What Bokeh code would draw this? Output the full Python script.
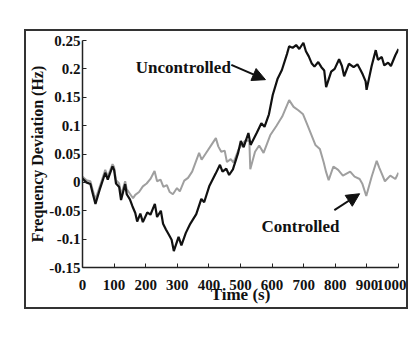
from bokeh.plotting import figure
from bokeh.models import Range1d, FixedTicker, Label, Arrow, NormalHead
from bokeh.embed import file_html
from bokeh.resources import INLINE

# ---- data ----
unc_t = [0, 12, 25, 33, 41, 56, 72, 80, 95, 100, 106, 116, 122, 135, 140, 150, 158, 167, 173,
         183, 191, 205, 215, 229, 236, 248, 255, 264, 273, 282, 289, 304, 313, 327, 341, 360,
         376, 385, 401, 421, 435, 443, 455, 464, 476, 492, 501, 510, 525, 532, 552, 566, 576,
         590, 602, 617, 631, 647, 654, 665, 676, 686, 699, 707, 716, 725, 734, 746, 756, 765,
         771, 787, 798, 812, 821, 828, 843, 858, 870, 879, 887, 896, 899, 915, 928, 935, 947,
         955, 967, 976, 990, 1000]
unc_v = [0.007, 0.000, -0.003, -0.021, -0.038, -0.010, 0.017, 0.005, 0.028, 0.022, -0.002,
         -0.008, -0.031, -0.003, -0.021, -0.030, -0.042, -0.054, -0.069, -0.055, -0.070,
         -0.053, -0.057, -0.038, -0.061, -0.050, -0.073, -0.083, -0.092, -0.101, -0.121,
         -0.096, -0.111, -0.089, -0.073, -0.056, -0.029, -0.035, -0.007, 0.015, 0.031, 0.019,
         0.024, 0.013, 0.023, 0.051, 0.073, 0.062, 0.087, 0.066, 0.088, 0.104, 0.098, 0.120,
         0.154, 0.182, 0.198, 0.226, 0.240, 0.237, 0.242, 0.235, 0.246, 0.231, 0.222, 0.210,
         0.204, 0.212, 0.203, 0.197, 0.168, 0.195, 0.200, 0.217, 0.205, 0.187, 0.209, 0.203,
         0.208, 0.199, 0.190, 0.178, 0.163, 0.205, 0.233, 0.216, 0.221, 0.206, 0.211, 0.205,
         0.224, 0.235]

ctl_t = [0, 12, 25, 33, 41, 56, 72, 80, 95, 100, 106, 116, 122, 135, 140, 150, 160, 167, 179,
         191, 203, 215, 228, 236, 247, 256, 267, 276, 286, 299, 308, 322, 334, 347, 369, 377,
         390, 409, 422, 430, 439, 450, 457, 469, 478, 493, 506, 518, 528, 531, 546, 559, 573,
         594, 613, 632, 654, 668, 683, 698, 711, 724, 737, 751, 763, 771, 779, 794, 809, 824,
         847, 861, 877, 886, 898, 915, 931, 939, 948, 957, 974, 990, 1000]
ctl_v = [0.010, 0.004, 0.002, -0.015, -0.030, -0.005, 0.022, 0.010, 0.032, 0.027, 0.004,
         -0.002, -0.022, 0.002, -0.012, -0.020, -0.028, -0.022, -0.017, -0.007, -0.002, 0.006,
         0.020, 0.002, 0.005, -0.008, -0.005, -0.017, -0.021, -0.010, -0.016, 0.003, 0.008,
         0.019, 0.052, 0.040, 0.051, 0.067, 0.078, 0.063, 0.054, 0.056, 0.036, 0.041, 0.035,
         0.057, 0.068, 0.075, 0.072, 0.023, 0.054, 0.065, 0.052, 0.083, 0.099, 0.116, 0.145,
         0.133, 0.127, 0.120, 0.102, 0.084, 0.066, 0.059, 0.036, 0.018, 0.004, 0.028, 0.022,
         0.012, 0.019, 0.010, 0.006, -0.003, -0.024, 0.010, 0.038, 0.026, 0.014, 0.002, 0.012,
         0.006, 0.017]

x_ticks = [0, 100, 200, 300, 400, 500, 600, 700, 800, 900, 1000]
y_ticks = [-0.15, -0.1, -0.05, 0.0, 0.05, 0.1, 0.15, 0.2, 0.25]
y_tick_labels = ["-0.15", "-0.1", "-0.05", "0", "0.05", "0.1", "0.15", "0.2", "0.25"]

unc_label_pos = (319, 0.203)
unc_arrow = (471, 0.207, 579, 0.181)
ctl_label_pos = (690, -0.078)
ctl_arrow = (797, -0.049, 877, -0.020)

FONT = "Liberation Serif"

p = figure(width=384, height=280, output_backend="svg", toolbar_location=None,
           x_range=Range1d(0, 1000), y_range=Range1d(-0.15, 0.25),
           min_border_left=50, min_border_right=12, min_border_top=9, min_border_bottom=44)
p.styles = {"margin-left": "24px", "margin-top": "29px", "border": "2px solid #333333"}
p.outline_line_color = None
p.xgrid.visible = False
p.ygrid.visible = False
p.background_fill_color = "white"
p.border_fill_color = "white"

p.line(ctl_t, ctl_v, line_color="#9f9f9f", line_width=2)
p.line(unc_t, unc_v, line_color="#111111", line_width=2.2)

for ax in (p.xaxis[0], p.yaxis[0]):
    ax.axis_line_color = "#222222"
    ax.axis_line_width = 1.5
    ax.major_tick_line_color = "#222222"
    ax.major_tick_in = 4
    ax.major_tick_out = 0
    ax.minor_tick_line_color = None
    ax.major_label_text_font = FONT
    ax.major_label_text_font_style = "bold"
    ax.major_label_text_font_size = "15px"
    ax.major_label_text_color = "#111111"
    ax.axis_label_text_font = FONT
    ax.axis_label_text_font_style = "bold"
    ax.axis_label_text_color = "#111111"

p.xaxis.axis_label_text_font_size = "17px"
p.yaxis.axis_label_text_font_size = "16px"
p.xaxis.ticker = FixedTicker(ticks=x_ticks)
p.yaxis.ticker = FixedTicker(ticks=y_ticks)
p.yaxis.major_label_overrides = {t: l for t, l in zip(y_ticks, y_tick_labels)}
p.xaxis.axis_label = "Time (s)"
p.yaxis.axis_label = "Frequency Deviation (Hz)"
p.xaxis.major_label_standoff = 12
p.xaxis.axis_label_standoff = -8
p.yaxis.major_label_standoff = 2
p.yaxis.axis_label_standoff = 0

p.add_layout(Label(x=unc_label_pos[0], y=unc_label_pos[1], text="Uncontrolled",
                   text_font=FONT, text_font_style="bold", text_font_size="17px",
                   text_align="center", text_baseline="middle", text_color="#111111"))
p.add_layout(Label(x=ctl_label_pos[0], y=ctl_label_pos[1], text="Controlled",
                   text_font=FONT, text_font_style="bold", text_font_size="17px",
                   text_align="center", text_baseline="middle", text_color="#111111"))
for a in (unc_arrow, ctl_arrow):
    p.add_layout(Arrow(x_start=a[0], y_start=a[1], x_end=a[2], y_end=a[3],
                       line_color="#111111", line_width=2,
                       end=NormalHead(size=13, fill_color="#111111", line_color="#111111")))

open("out.html", "w").write(file_html(p, INLINE))
